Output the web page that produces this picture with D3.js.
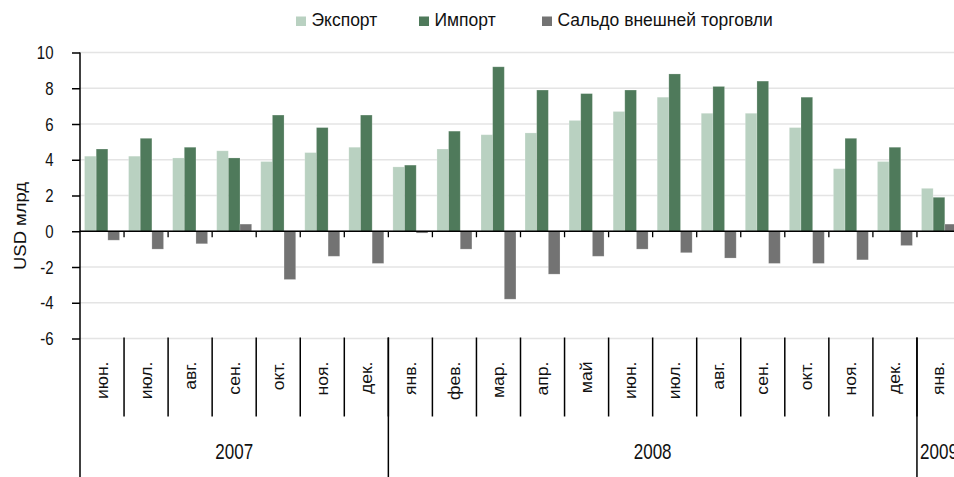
<!DOCTYPE html>
<html>
<head>
<meta charset="utf-8">
<script src="https://cdn.jsdelivr.net/npm/d3@7"></script>
<style>
    body { margin: 0; background: #fff; }
    svg { display: block; font-family: "Liberation Sans", Arial, sans-serif; }
</style>
</head>
<body>
<svg id="chart" width="954" height="477"></svg>
<script>

// ##################################################
// #                                                #
// #  Data                                          #
// #                                                #
// ##################################################

let months = ['июн.', 'июл.', 'авг.', 'сен.', 'окт.', 'ноя.', 'дек.',
    'янв.', 'фев.', 'мар.', 'апр.', 'май', 'июн.', 'июл.', 'авг.', 'сен.', 'окт.', 'ноя.', 'дек.',
    'янв.'];
let years = ['2007', '2008', '2009'];
let yearMonths = [7, 12, 1];

let exportValues = [4.2, 4.2, 4.1, 4.5, 3.9, 4.4, 4.7, 3.6, 4.6, 5.4, 5.5, 6.2, 6.7, 7.5, 6.6, 6.6, 5.8, 3.5, 3.9, 2.4];
let importValues = [4.6, 5.2, 4.7, 4.1, 6.5, 5.8, 6.5, 3.7, 5.6, 9.2, 7.9, 7.7, 7.9, 8.8, 8.1, 8.4, 7.5, 5.2, 4.7, 1.9];
let saldoValues = [-0.5, -1.0, -0.7, 0.4, -2.7, -1.4, -1.8, -0.1, -1.0, -3.8, -2.4, -1.4, -1.0, -1.2, -1.5, -1.8, -1.8, -1.6, -0.8, 0.4];

let seriesNames = ['Экспорт', 'Импорт', 'Сальдо внешней торговли'];
let seriesColors = ['#b9d1c1', '#4f7a5b', '#737373'];
let yTicks = [-6, -4, -2, 0, 2, 4, 6, 8, 10];

// ##################################################
// #                                                #
// #  Layout                                        #
// #                                                #
// ##################################################

let _left = 80;
let _step = 44.05;
let _top = 52.5;
let _bottom = 338.5;

let svg = d3.select('#chart');

let x0 = d3.scaleBand()
    .domain(d3.range(months.length))
    .range([_left, _left + _step * months.length])
    .paddingInner(0)
    .paddingOuter(0);

let x1 = d3.scaleBand()
    .domain(d3.range(seriesNames.length))
    .range([0, x0.bandwidth()])
    .paddingInner(0)
    .paddingOuter(0.39);

let y = d3.scaleLinear()
    .domain([-6, 10])
    .range([_bottom, _top]);

// text with a slight vertical stretch, like the source picture
function label(parent, x, yPos, text, size, stretch, rotate) {
    return parent.append('text')
        .attr('transform', `translate(${x},${yPos}) scale(1,${stretch})` + (rotate ? ' rotate(-90)' : ''))
        .attr('font-size', size)
        .attr('fill', '#111')
        .text(text);
}

// ##################################################
// #                                                #
// #  Grid                                          #
// #                                                #
// ##################################################

svg.append('g')
    .attr('class', 'grid')
    .selectAll('line')
    .data(yTicks)
    .join('line')
    .attr('x1', _left)
    .attr('x2', 954)
    .attr('y1', d => y(d))
    .attr('y2', d => y(d))
    .attr('stroke', '#e4e4e4')
    .attr('stroke-width', 1.5);

// ##################################################
// #                                                #
// #  Bars                                          #
// #                                                #
// ##################################################

let rows = months.map((m, i) => [exportValues[i], importValues[i], saldoValues[i]]);

let groups = svg.append('g')
    .attr('class', 'bars')
    .selectAll('g')
    .data(rows)
    .join('g')
    .attr('transform', (d, i) => `translate(${x0(i)},0)`);

groups.selectAll('rect')
    .data(d => d)
    .join('rect')
    .attr('x', (d, j) => x1(j))
    .attr('width', x1.bandwidth())
    .attr('y', d => y(Math.max(0, d)))
    .attr('height', d => Math.abs(y(d) - y(0)))
    .attr('fill', (d, j) => seriesColors[j])
    .attr('stroke', '#ffffff')
    .attr('stroke-opacity', 0.25)
    .attr('stroke-width', 0.8);

// ##################################################
// #                                                #
// #  Axes                                          #
// #                                                #
// ##################################################

let axisGroup = svg.append('g').attr('class', 'axes');

// zero line with small ticks
axisGroup.append('line')
    .attr('x1', _left).attr('x2', 954)
    .attr('y1', y(0)).attr('y2', y(0))
    .attr('stroke', '#000').attr('stroke-width', 1.5);

axisGroup.selectAll('.zero-tick')
    .data(d3.range(1, months.length))
    .join('line')
    .attr('class', 'zero-tick')
    .attr('x1', d => x0(d)).attr('x2', d => x0(d))
    .attr('y1', y(0)).attr('y2', y(0) + 6)
    .attr('stroke', '#000').attr('stroke-width', 1.3);

// y axis
let yAxis = d3.axisLeft(y)
    .tickValues(yTicks)
    .tickSize(8)
    .tickFormat('');

let yAxisGroup = axisGroup.append('g')
    .attr('transform', `translate(${_left},0)`)
    .call(yAxis);
yAxisGroup.select('.domain').remove();
yAxisGroup.selectAll('line').attr('stroke', '#000').attr('stroke-width', 1.5);

axisGroup.append('line')
    .attr('x1', _left).attr('x2', _left)
    .attr('y1', _top).attr('y2', 477)
    .attr('stroke', '#000').attr('stroke-width', 1.5);

yTicks.forEach(t => {
    label(axisGroup, 53.5, y(t) + 6.5, t, 15, 1.2).attr('text-anchor', 'end');
});

label(axisGroup, 26, 226, 'USD млрд', 16, 1.15, true).attr('text-anchor', 'middle');

// category separators
axisGroup.selectAll('.sep')
    .data(d3.range(1, months.length))
    .join('line')
    .attr('class', 'sep')
    .attr('x1', d => x0(d)).attr('x2', d => x0(d))
    .attr('y1', _bottom - 1).attr('y2', 416.5)
    .attr('stroke', '#000').attr('stroke-width', 1.5);

months.forEach((m, i) => {
    label(axisGroup, x0(i) + _step / 2 + 5.5, 361.5, m, 16, 1.1, true)
        .attr('text-anchor', 'end');
});

// years
let start = 0;
years.forEach((yr, k) => {
    let a = x0(start);
    let b = _left + _step * (start + yearMonths[k]);
    if (start > 0) {
        axisGroup.append('line')
            .attr('x1', a).attr('x2', a)
            .attr('y1', _bottom - 1).attr('y2', 477)
            .attr('stroke', '#000').attr('stroke-width', 1.5);
    }
    label(axisGroup, (a + b) / 2, 459, yr, 17, 1.25).attr('text-anchor', 'middle');
    start += yearMonths[k];
});

// ##################################################
// #                                                #
// #  Legend                                        #
// #                                                #
// ##################################################

let legendX = [296, 419, 542];

let legend = svg.append('g').attr('class', 'legend');

seriesNames.forEach((name, j) => {
    legend.append('rect')
        .attr('x', legendX[j])
        .attr('y', 16.5)
        .attr('width', 10)
        .attr('height', 9.5)
        .attr('fill', seriesColors[j]);
    label(legend, legendX[j] + 15.5, 26, name, 17.5, 1.08);
});

</script>
</body>
</html>
